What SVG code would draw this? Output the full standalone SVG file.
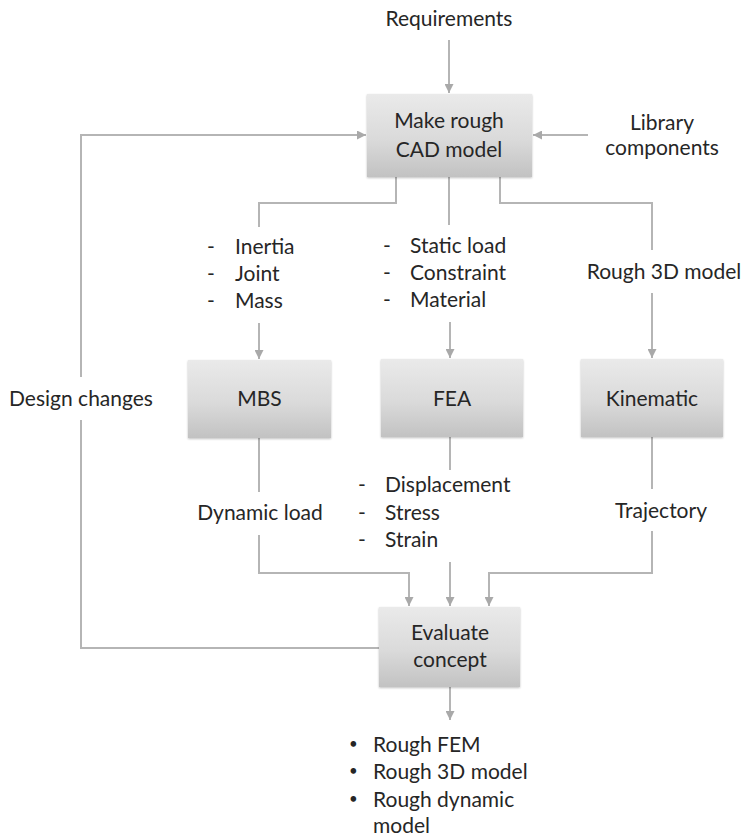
<svg xmlns="http://www.w3.org/2000/svg" width="741" height="836" viewBox="0 0 741 836">
  <defs>
    <linearGradient id="boxFill" x1="0" y1="0" x2="0" y2="1">
      <stop offset="0" stop-color="#eaeaea"/>
      <stop offset="0.55" stop-color="#dadada"/>
      <stop offset="1" stop-color="#c2c2c2"/>
    </linearGradient>
    <filter id="soft" x="-5%" y="-5%" width="110%" height="115%">
      <feGaussianBlur in="SourceAlpha" stdDeviation="1"/>
      <feOffset dx="0" dy="1" result="b"/>
      <feComponentTransfer><feFuncA type="linear" slope="0.25"/></feComponentTransfer>
      <feMerge><feMergeNode/><feMergeNode in="SourceGraphic"/></feMerge>
    </filter>
    <marker id="arrow" viewBox="0 0 10 10" refX="10" refY="5" markerWidth="9" markerHeight="9" markerUnits="userSpaceOnUse" orient="auto">
      <path d="M0,0 L10,5 L0,10 z" fill="#a9a9a9"/>
    </marker>
  </defs>
  <style>
    text { font-family: Lato, "Liberation Sans", sans-serif; font-size: 21px; fill: #262626; }
    .c { text-anchor: middle; }
    .dot { font-size: 15px; }
    .box { fill: url(#boxFill); filter: url(#soft); }
    .wire { fill: none; stroke: #b5b5b5; stroke-width: 2; }
    .arr { marker-end: url(#arrow); }
  </style>

  <rect width="741" height="836" fill="#ffffff"/>

  <!-- connectors -->
  <g id="connectors">
    <path class="wire arr" d="M449,40 V93"/>
    <path class="wire arr" d="M588,135 H533"/>
    <path class="wire arr" d="M379,648 H81 V420 M81,377 V135 H366"/>
    <path class="wire" d="M396,177 V203 H259 V227"/>
    <path class="wire arr" d="M259,323 V359"/>
    <path class="wire" d="M449,177 V225"/>
    <path class="wire arr" d="M450,322 V358"/>
    <path class="wire" d="M500,177 V203 H652 V250"/>
    <path class="wire arr" d="M652,293 V358"/>
    <path class="wire" d="M259,438 V492"/>
    <path class="wire arr" d="M259,535 V573 H409 V606"/>
    <path class="wire" d="M450,437 V470"/>
    <path class="wire arr" d="M450,562 V606"/>
    <path class="wire" d="M652,437 V489"/>
    <path class="wire arr" d="M652,531 V573 H489 V606"/>
    <path class="wire arr" d="M450,687 V720"/>
  </g>

  <!-- free labels -->
  <g id="labels">
    <text class="c" x="449" y="26">Requirements</text>
    <text class="c" x="662" y="130">Library</text>
    <text class="c" x="662" y="155">components</text>
    <text class="c" x="81" y="406">Design changes</text>
    <g id="mbs-inputs">
      <text x="207" y="254">-</text><text x="235" y="254">Inertia</text>
      <text x="207" y="281">-</text><text x="235" y="281">Joint</text>
      <text x="207" y="308">-</text><text x="235" y="308">Mass</text>
    </g>
    <g id="fea-inputs">
      <text x="383" y="253">-</text><text x="410" y="253">Static load</text>
      <text x="383" y="280">-</text><text x="410" y="280">Constraint</text>
      <text x="383" y="307">-</text><text x="410" y="307">Material</text>
    </g>
    <text class="c" x="664" y="279">Rough 3D model</text>
    <text class="c" x="260" y="520">Dynamic load</text>
    <g id="fea-outputs">
      <text x="358" y="492">-</text><text x="385" y="492">Displacement</text>
      <text x="358" y="520">-</text><text x="385" y="520">Stress</text>
      <text x="358" y="547">-</text><text x="385" y="547">Strain</text>
    </g>
    <text class="c" x="661" y="518">Trajectory</text>
    <g id="results">
      <text class="dot" x="349" y="749">•</text><text x="373" y="752">Rough FEM</text>
      <text class="dot" x="349" y="776">•</text><text x="373" y="779">Rough 3D model</text>
      <text class="dot" x="349" y="804">•</text><text x="373" y="807">Rough dynamic</text>
      <text x="373" y="833">model</text>
    </g>
  </g>

  <!-- nodes -->
  <g id="make-cad">
    <rect class="box" x="367" y="94" width="165" height="83"/>
    <text class="c" x="449" y="128">Make rough</text>
    <text class="c" x="449" y="157">CAD model</text>
  </g>
  <g id="mbs">
    <rect class="box" x="188" y="360" width="143" height="78"/>
    <text class="c" x="259.5" y="406">MBS</text>
  </g>
  <g id="fea">
    <rect class="box" x="381" y="359" width="142" height="78"/>
    <text class="c" x="452" y="406">FEA</text>
  </g>
  <g id="kinematic">
    <rect class="box" x="581" y="359" width="142" height="78"/>
    <text class="c" x="652" y="406">Kinematic</text>
  </g>
  <g id="evaluate">
    <rect class="box" x="379" y="607" width="141" height="80"/>
    <text class="c" x="450" y="640">Evaluate</text>
    <text class="c" x="450" y="667">concept</text>
  </g>
</svg>
